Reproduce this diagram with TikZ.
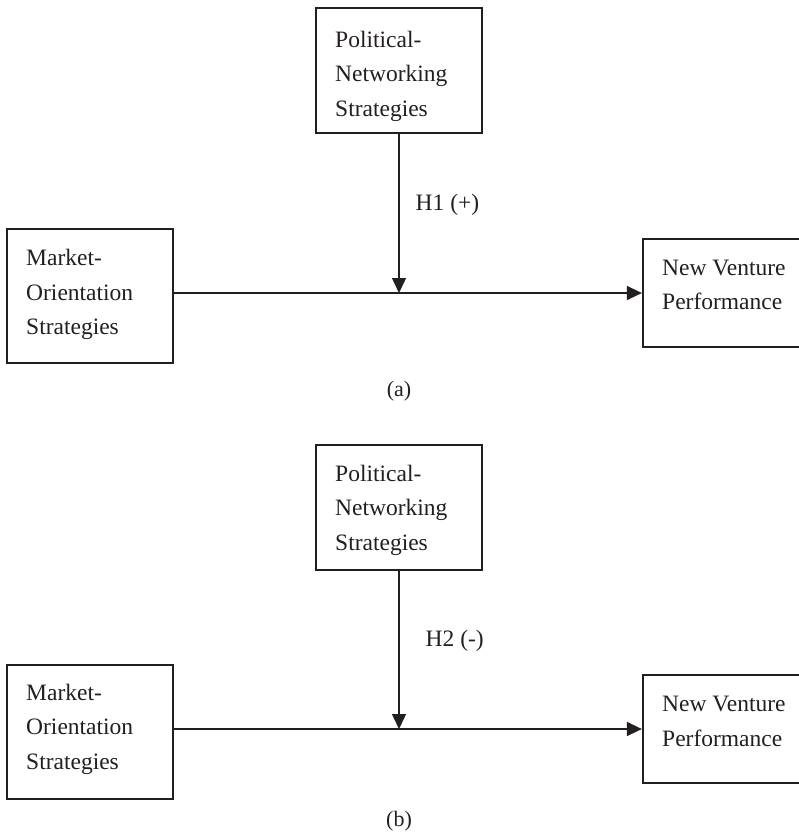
\documentclass[tikz,border=0pt]{standalone}
\usepackage{fontspec}
\setmainfont{Liberation Serif}
\usetikzlibrary{arrows.meta}
\definecolor{ink}{RGB}{35,31,32}
\begin{document}
\begin{tikzpicture}[x=1pt,y=-1pt,
  box/.style={draw=ink, line width=2.2pt, rectangle, inner sep=0pt},
  txt/.style={font={\fontsize{23.5}{34.5}\selectfont}, text=ink, align=left, anchor=base west, inner sep=0pt},
  arr/.style={draw=ink, line width=1.4pt, -{Triangle[length=15pt,width=14pt]}},
  lbl/.style={font={\fontsize{23.5}{27}\selectfont}, text=ink, inner sep=0pt, anchor=base west},
  captxt/.style={font={\fontsize{22}{26}\selectfont}, text=ink, inner sep=0pt, anchor=base}]
\clip (0,0) rectangle (799,833);
% ---------- panel (a)  (text nodes are placed at the baseline of their last line)
\node[box, minimum width=166pt, minimum height=125pt] (pn1) at (399,70.5) {};
\node[box, minimum width=166pt, minimum height=134pt] (mo1) at (90,296) {};
\node[box, minimum width=167pt, minimum height=108pt] (nv1) at (726.5,293) {};
\node[txt] (pn1t) at (335,116) {Political-\\Networking\\Strategies};
\node[txt] (mo1t) at (26,334.5) {Market-\\Orientation\\Strategies};
\node[txt] (nv1t) at (662,309.5) {New Venture\\Performance};
\coordinate (m1) at (pn1.south |- nv1.west);
\draw[arr] (mo1.east |- nv1.west) -- (nv1.west);
\draw[arr] (pn1.south) -- node[lbl, pos=0.48, xshift=16pt] (h1) {H1 (+)} (m1);
\node[captxt] (capa) at (399,396) {(a)};
% ---------- panel (b)
\node[box, minimum width=166pt, minimum height=125pt] (pn2) at (399,507.5) {};
\node[box, minimum width=166pt, minimum height=134pt] (mo2) at (90,732) {};
\node[box, minimum width=167pt, minimum height=108pt] (nv2) at (726.5,729) {};
\node[txt] (pn2t) at (335,550) {Political-\\Networking\\Strategies};
\node[txt] (mo2t) at (26,769) {Market-\\Orientation\\Strategies};
\node[txt] (nv2t) at (662,746) {New Venture\\Performance};
\coordinate (m2) at (pn2.south |- nv2.west);
\draw[arr] (mo2.east |- nv2.west) -- (nv2.west);
\draw[arr] (pn2.south) -- node[lbl, pos=0.48, xshift=26pt] (h2) {H2 (-)} (m2);
\node[captxt] (capb) at (399,826) {(b)};
\end{tikzpicture}
\end{document}
